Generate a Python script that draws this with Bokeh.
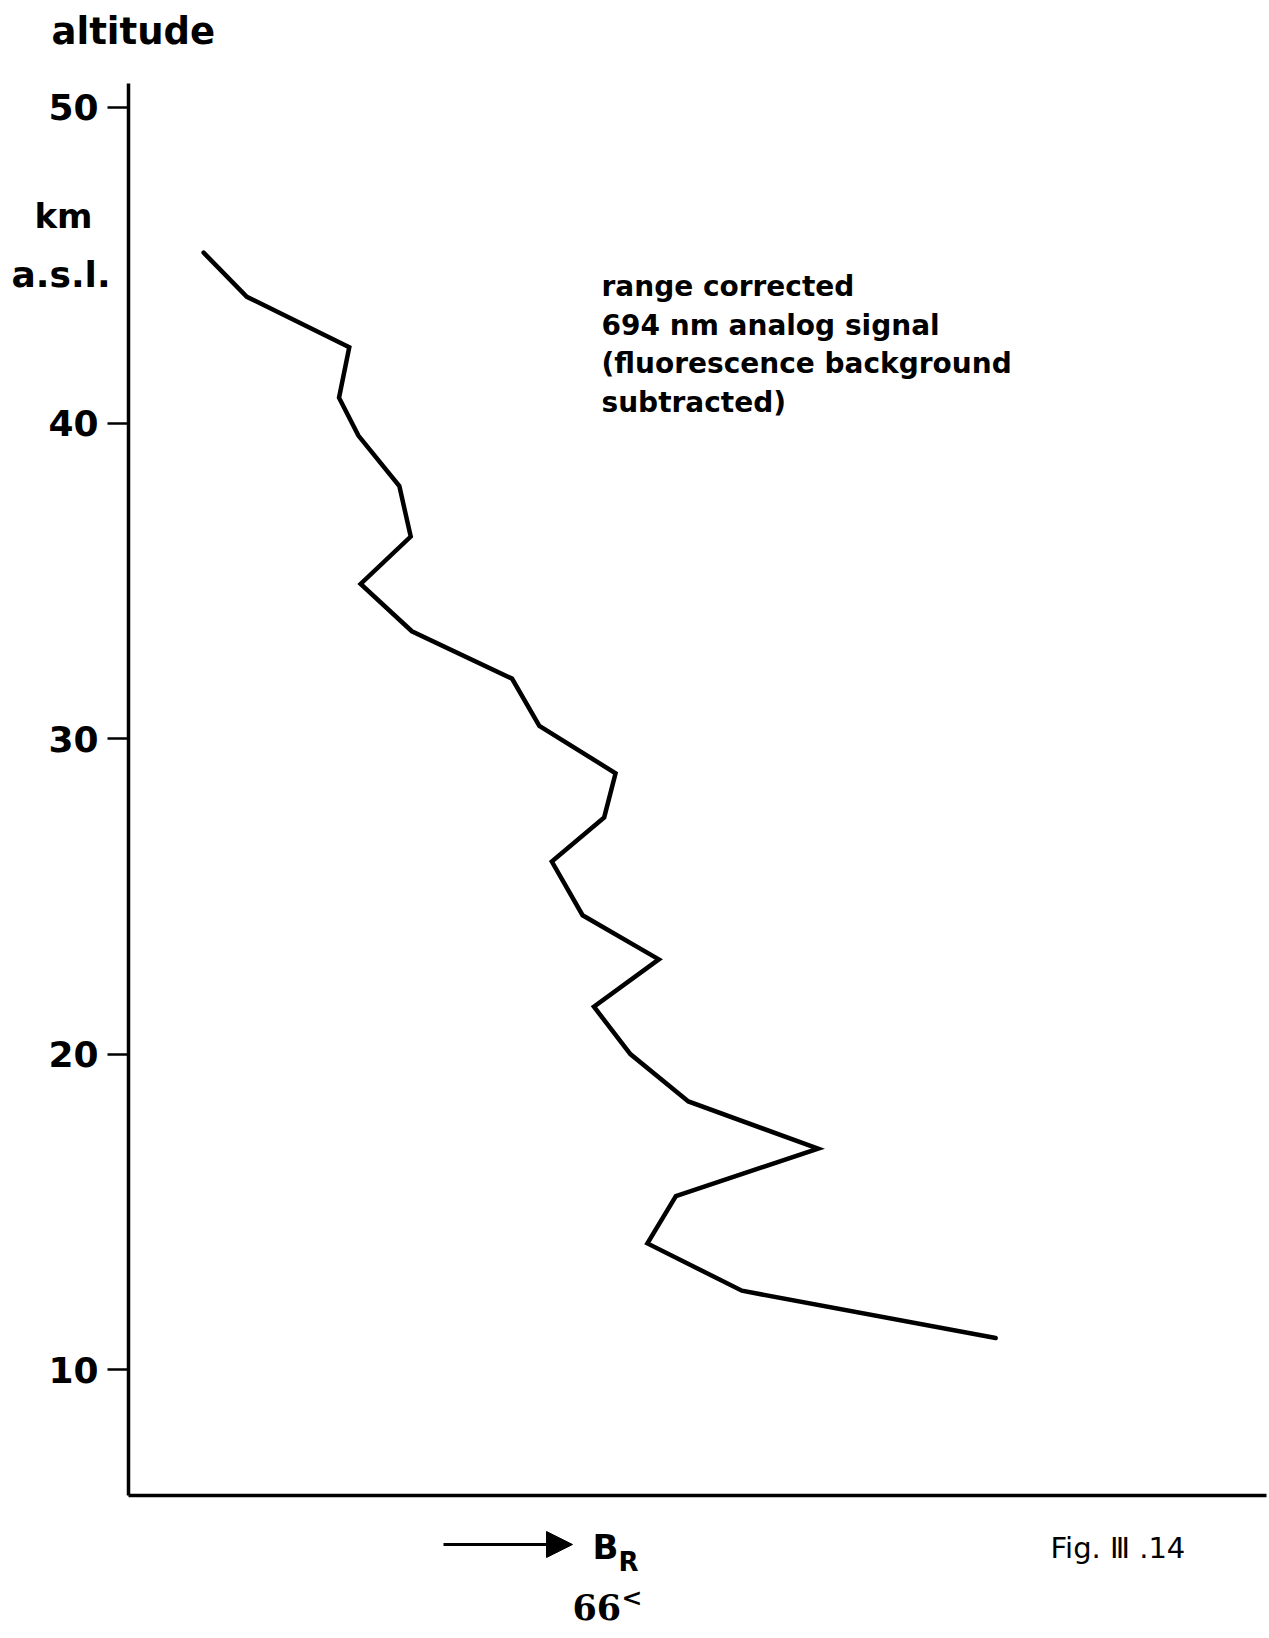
from bokeh.plotting import figure
from bokeh.models import FixedTicker, Label, Arrow, NormalHead, Range1d
from bokeh.embed import file_html
from bokeh.resources import INLINE

# Range-corrected 694 nm analog lidar signal versus altitude
altitude_km = [45.4, 44.0, 42.4, 40.8, 39.6, 38.0, 36.4, 34.9, 33.4, 31.9, 30.4, 28.9,
               27.5, 26.1, 24.4, 23.0, 21.5, 20.0, 18.5, 17.0, 15.5, 14.0, 12.5, 11.0]
signal_br = [6.6, 10.4, 19.4, 18.5, 20.2, 23.8, 24.8, 20.4, 24.9, 33.7, 36.1, 42.8,
             41.8, 37.2, 39.9, 46.6, 40.9, 44.1, 49.2, 60.6, 48.1, 45.6, 53.9, 76.2]
altitude_ticks = [10, 20, 30, 40, 50]
note_lines = ["range corrected", "694 nm analog signal",
              "(fluorescence background", "subtracted)"]

W, H = 1269, 1638
# pixel box spanned by the two axis lines
AX_L, AX_R, AX_T, AX_B = 128, 1266, 83, 1495
X0, X1 = 0.0, 100.0          # signal extent along the abscissa
Y0, Y1 = 6.01, 50.76         # altitude extent along the ordinate

SX = (AX_R - AX_L) / (X1 - X0)
SY = (AX_B - AX_T) / (Y1 - Y0)

TEXT_FONT = "DejaVu Sans"
SERIF_FONT = "DejaVu Serif"


def to_data(px, py):
    """Page pixel position -> data coordinates."""
    return X0 + (px - AX_L) / SX, Y1 - (py - AX_T) / SY


# the plot frame covers the whole page; axes sit at fixed locations inside it
xr = Range1d(to_data(0, 0)[0], to_data(W, 0)[0])
yr = Range1d(to_data(0, H)[1], to_data(0, 0)[1])

p = figure(width=W, height=H, output_backend="svg", toolbar_location=None,
           x_range=xr, y_range=yr,
           min_border_left=0, min_border_right=0, min_border_top=0, min_border_bottom=0)
p.background_fill_color = "white"
p.border_fill_color = "white"
p.outline_line_color = None
p.xgrid.visible = False
p.ygrid.visible = False

# altitude axis
ya = p.yaxis[0]
ya.fixed_location = X0
ya.bounds = (Y0, Y1)
ya.ticker = FixedTicker(ticks=altitude_ticks)
ya.minor_tick_line_color = None
ya.axis_line_width = 3.5
ya.axis_line_color = "black"
ya.major_tick_line_width = 2.5
ya.major_tick_line_color = "black"
ya.major_tick_out = 21
ya.major_tick_in = 0
ya.major_label_standoff = 9
ya.major_label_text_font = TEXT_FONT
ya.major_label_text_font_size = "36px"
ya.major_label_text_font_style = "bold"
ya.major_label_text_color = "black"

# signal axis: plain line, no ticks
xa = p.xaxis[0]
xa.fixed_location = Y0
xa.bounds = (X0, X1)
xa.ticker = FixedTicker(ticks=[])
xa.minor_tick_line_color = None
xa.major_tick_line_color = None
xa.axis_line_width = 3.5
xa.axis_line_color = "black"

p.line(signal_br, altitude_km, line_color="black", line_width=4.5,
       line_join="miter", line_cap="round")


def add_text(text, px, py, size, font=TEXT_FONT, style="bold", align="left"):
    """Place a text with its baseline at page pixel (px, py)."""
    x, y = to_data(px, py)
    p.add_layout(Label(x=x, y=y, text=text, text_font=font, text_font_size=f"{size}px",
                       text_font_style=style, text_color="black",
                       text_align=align, text_baseline="alphabetic"))


add_text("altitude", 51, 31, 37)
add_text("km", 63, 215, 34, align="center")
add_text("a.s.l.", 11, 274, 36)

for i, line in enumerate(note_lines):
    add_text(line, 601, 286 + i * 38.7, 28)

# abscissa label with arrow
ax0, ay = to_data(443, 1544)
ax1, _ = to_data(572, 1544)
p.add_layout(Arrow(x_start=ax0, y_start=ay, x_end=ax1, y_end=ay,
                   line_color="black", line_width=3,
                   end=NormalHead(size=26, fill_color="black", line_color="black")))
add_text("B", 592, 1546, 34)
add_text("R", 618, 1561, 26)

add_text("66", 572, 1606, 35, font=SERIF_FONT, style="bold")
add_text("<", 621, 1597, 25, font=SERIF_FONT, style="bold")

add_text("Fig. Ⅲ .14", 1050, 1547, 29, style="normal")

open("out.html", "w").write(file_html(p, INLINE))
